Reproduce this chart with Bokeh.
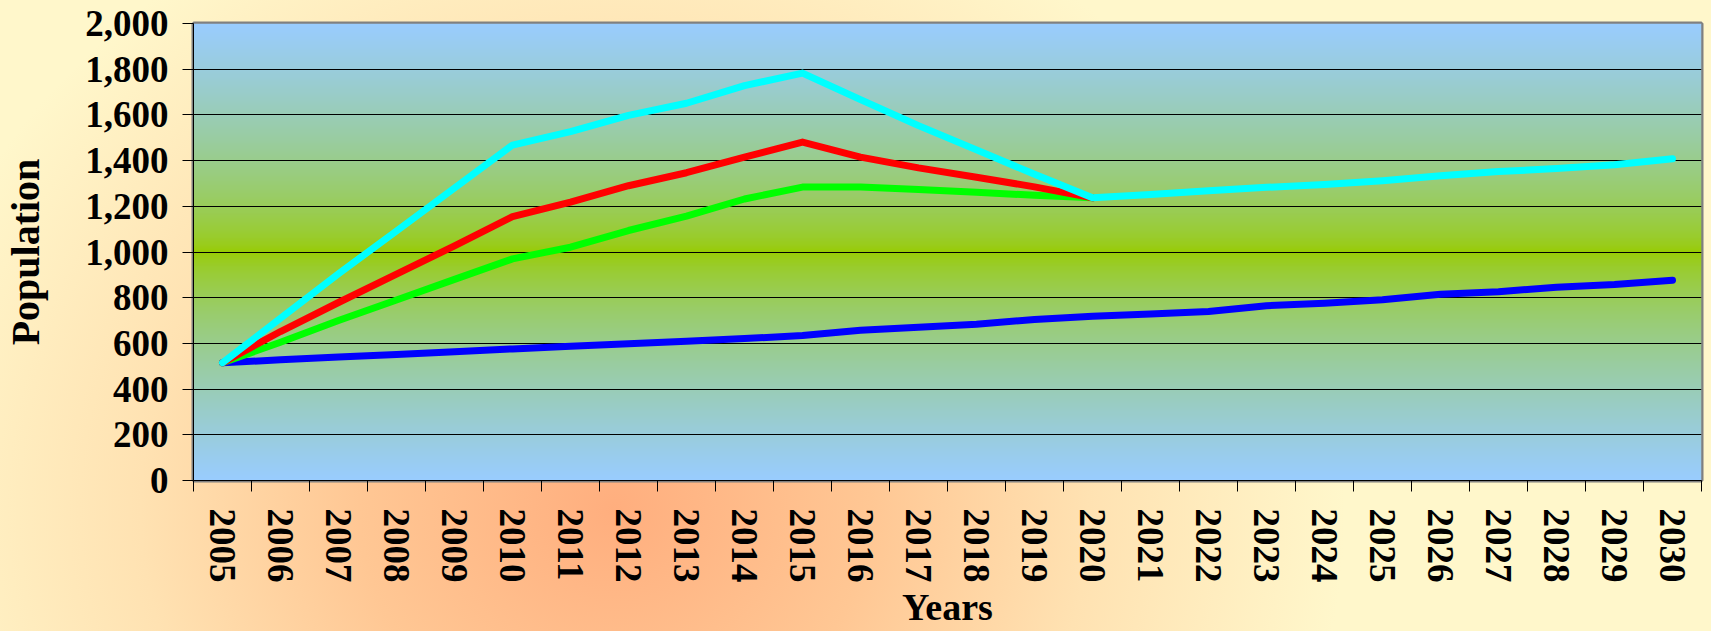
import numpy as np
from bokeh.plotting import figure
from bokeh.models import Range1d, FixedTicker, NumeralTickFormatter
from bokeh.embed import file_html
from bokeh.resources import INLINE

years = list(range(2005, 2031))
scenario_blue = [515, 528, 540, 551, 563, 576, 587, 598, 609, 621, 635, 658, 671,
                 684, 705, 719, 729, 740, 765, 776, 791, 815, 826, 846, 858, 876]
scenario_green = [515, 605, 700, 790, 880, 970, 1021, 1094, 1157, 1232, 1284,
                  1284, 1274, 1262, 1248, 1237]
scenario_red = [515, 652, 779, 903, 1027, 1155, 1218, 1290, 1347, 1415, 1481,
                1415, 1368, 1327, 1285, 1237]
scenario_cyan = [515, 710, 905, 1092, 1280, 1468, 1527, 1598, 1651, 1728, 1783,
                 1667, 1553, 1447, 1340, 1237, 1252, 1268, 1283, 1295, 1312,
                 1334, 1352, 1365, 1382, 1408]
y_ticks = list(range(0, 2001, 200))
x_title = "Years"
y_title = "Population"

FONT = "Liberation Serif"

p = figure(width=1711, height=631, output_backend="svg", toolbar_location=None,
           x_range=Range1d(years[0] - 0.5, years[-1] + 0.5),
           y_range=Range1d(0, 2000),
           min_border_left=191, min_border_right=10, min_border_top=23,
           min_border_bottom=151)

p.border_fill_color = None
p.background_fill_color = "#99CCFF"
p.styles = {
    "position": "absolute", "left": "0px", "top": "0px",
    "background": "radial-gradient(ellipse 730px 660px at 615px 510px, "
                  "#FFAE7E 0%, #FFC794 35%, #FFE2B2 65%, #FFF7CB 100%)"
}
p.outline_line_color = "#808080"
p.outline_line_width = 4

# plot-area gradient (blue - green - blue)
n = 400
t = np.linspace(0, 1, n)
d = np.abs(t - 0.5) * 2
blue_c = np.array([153, 204, 255])
green_c = np.array([153, 204, 0])
w = d ** 0.65
cols = (green_c[None, :] * (1 - w[:, None]) + blue_c[None, :] * w[:, None]).astype(np.uint32)
img = np.empty((n, 1), dtype=np.uint32)
view = img.view(dtype=np.uint8).reshape((n, 1, 4))
view[:, 0, 0] = cols[:, 0]
view[:, 0, 1] = cols[:, 1]
view[:, 0, 2] = cols[:, 2]
view[:, 0, 3] = 255
p.image_rgba(image=[img], x=years[0] - 0.5, y=0, dw=len(years), dh=2000, level="image")

p.xgrid.visible = False
p.ygrid.ticker = FixedTicker(ticks=y_ticks)
p.ygrid.grid_line_color = "black"
p.ygrid.grid_line_width = 1

lw = 7
p.line(years, scenario_blue, line_color="#0000FF", line_width=lw, line_cap="round", line_join="round")
p.line(years[:len(scenario_green)], scenario_green, line_color="#00FF00", line_width=lw, line_cap="round", line_join="round")
p.line(years[:len(scenario_red)], scenario_red, line_color="#FF0000", line_width=lw, line_cap="round", line_join="round")
p.line(years, scenario_cyan, line_color="#00FFFF", line_width=lw, line_cap="round", line_join="round")

# x axis
xa = p.xaxis[0]
xa.ticker = FixedTicker(ticks=years, minor_ticks=[y - 0.5 for y in years] + [years[-1] + 0.5])
xa.major_tick_out = 0
xa.major_tick_in = 0
xa.minor_tick_out = 11
xa.minor_tick_in = 0
xa.minor_tick_line_color = "black"
xa.axis_line_color = "black"
xa.major_label_orientation = "vertical"
xa.major_label_text_font = FONT
xa.major_label_text_font_style = "bold"
xa.major_label_text_font_size = "37px"
xa.major_label_text_color = "black"
xa.major_label_standoff = 17
xa.axis_label = x_title
xa.axis_label_text_font = FONT
xa.axis_label_text_font_style = "bold"
xa.axis_label_text_font_size = "38px"
xa.axis_label_text_color = "black"
xa.axis_label_standoff = 0

ya = p.yaxis[0]
ya.ticker = FixedTicker(ticks=y_ticks)
ya.formatter = NumeralTickFormatter(format="0,0")
ya.major_tick_out = 11
ya.major_tick_in = 0
ya.minor_tick_out = 0
ya.minor_tick_in = 0
ya.axis_line_color = "black"
ya.major_label_text_font = FONT
ya.major_label_text_font_style = "bold"
ya.major_label_text_font_size = "37px"
ya.major_label_text_color = "black"
ya.major_label_standoff = 14
ya.axis_label = y_title
ya.axis_label_text_font = FONT
ya.axis_label_text_font_style = "bold"
ya.axis_label_text_font_size = "40px"
ya.axis_label_text_color = "black"
ya.axis_label_standoff = 34

open("out.html", "w").write(file_html(p, INLINE))
